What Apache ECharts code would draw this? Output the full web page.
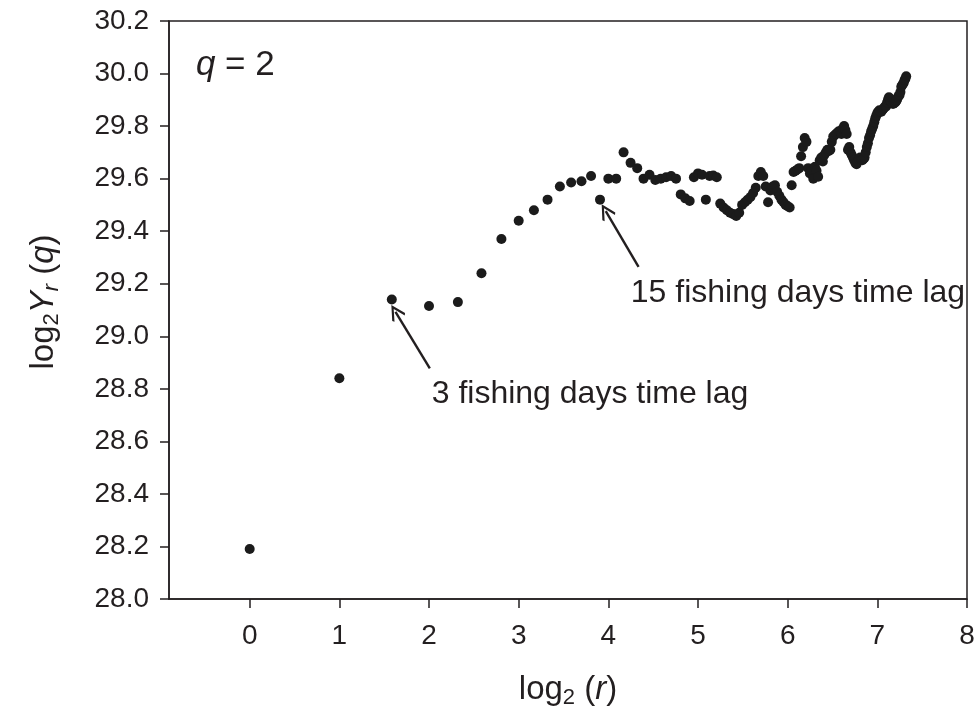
<!DOCTYPE html>
<html>
<head>
<meta charset="utf-8">
<title>log2 Y_r(q) vs log2(r)</title>
<script src="https://cdn.jsdelivr.net/npm/echarts@6/dist/echarts.min.js"></script>
<style>
  html, body { margin: 0; padding: 0; background: #ffffff; }
  #chart { width: 975px; height: 709px; }
</style>
</head>
<body>
<div id="chart"></div>
<script>
// Time lag r (fishing days)
const lags = [
  1, 2, 3, 4, 5, 6, 7, 8, 9, 10, 11, 12, 13, 14, 15, 16, 17, 18, 19, 20,
  21, 22, 23, 24, 25, 26, 27, 28, 29, 30, 31, 32, 33, 34, 35, 36, 37, 38, 39, 40,
  41, 42, 43, 44, 45, 46, 47, 48, 49, 50, 51, 52, 53, 54, 55, 56, 57, 58, 59, 60,
  61, 62, 63, 64, 65, 66, 67, 68, 69, 70, 71, 72, 73, 74, 75, 76, 77, 78, 79, 80,
  81, 82, 83, 84, 85, 86, 87, 88, 89, 90, 91, 92, 93, 94, 95, 96, 97, 98, 99, 100,
  101, 102, 103, 104, 105, 106, 107, 108, 109, 110, 111, 112, 113, 114, 115, 116, 117, 118, 119, 120,
  121, 122, 123, 124, 125, 126, 127, 128, 129, 130, 131, 132, 133, 134, 135, 136, 137, 138, 139, 140,
  141, 142, 143, 144, 145, 146, 147, 148, 149, 150, 151, 152, 153, 154, 155, 156, 157, 158, 159, 160
];

// log2 Y_r(q) for q = 2, one value per lag
const logY = [
  28.19, 28.84, 29.14, 29.115, 29.13, 29.24, 29.37, 29.44, 29.48, 29.52,
  29.57, 29.585, 29.59, 29.61, 29.52, 29.60, 29.60, 29.70, 29.66, 29.64,
  29.60, 29.615, 29.595, 29.60, 29.605, 29.61, 29.60, 29.54, 29.525, 29.515,
  29.605, 29.62, 29.615, 29.52, 29.61, 29.612, 29.605, 29.505, 29.49, 29.48,
  29.47, 29.465, 29.458, 29.47, 29.50, 29.51, 29.52, 29.53, 29.545, 29.565,
  29.61, 29.625, 29.61, 29.57, 29.51, 29.555, 29.57, 29.575, 29.55, 29.535,
  29.52, 29.51, 29.50, 29.495, 29.49, 29.575, 29.625, 29.63, 29.635, 29.64,
  29.685, 29.72, 29.755, 29.74, 29.64, 29.62, 29.63, 29.60, 29.645, 29.63,
  29.607, 29.67, 29.68, 29.665, 29.69, 29.70, 29.71, 29.705, 29.71, 29.74,
  29.76, 29.765, 29.77, 29.775, 29.78, 29.78, 29.77, 29.79, 29.80, 29.785,
  29.77, 29.71, 29.72, 29.70, 29.69, 29.68, 29.67, 29.66, 29.655, 29.665,
  29.675, 29.68, 29.675, 29.67, 29.675, 29.68, 29.70, 29.72, 29.735, 29.755,
  29.765, 29.78, 29.79, 29.80, 29.815, 29.83, 29.84, 29.85, 29.855, 29.86,
  29.855, 29.855, 29.86, 29.865, 29.87, 29.875, 29.875, 29.89, 29.90, 29.91,
  29.905, 29.895, 29.89, 29.885, 29.885, 29.89, 29.89, 29.895, 29.90, 29.91,
  29.915, 29.918, 29.93, 29.95, 29.955, 29.96, 29.965, 29.975, 29.98, 29.99
];

// Tick values
const xTicks = [0, 1, 2, 3, 4, 5, 6, 7, 8];

// Annotations: arrow tail -> head, and text anchor (data coordinates)
const notes = [
  { text: '3 fishing days time lag', tail: [2.009, 28.878], head: [1.626, 29.093], at: [2.03, 28.78] },
  { text: '15 fishing days time lag', tail: [4.337, 29.264], head: [3.971, 29.476], at: [4.25, 29.165] }
];

const FONT = '"Liberation Sans", Arial, Helvetica, sans-serif';
const INK = '#231f20';

const points = lags.map((r, i) => [Math.log2(r), logY[i]]);

// Open chevron arrowhead (points up; markLine rotates it along the line)
const chevron = 'path://M0,0 L10,13 L8,14.8 L0,4.2 L-8,14.8 L-10,13 Z';

const chart = echarts.init(document.getElementById('chart'), null, { renderer: 'canvas' });

chart.setOption({
  backgroundColor: '#ffffff',
  animation: false,
  grid: {
    left: 169, right: 8, top: 21, bottom: 110,
    outerBoundsMode: 'none',
    containLabel: false,
    show: true, borderColor: INK, borderWidth: 1.5, backgroundColor: 'transparent'
  },
  xAxis: {
    type: 'value',
    min: -0.9, max: 8,
    name: '{n|log}{s|2}{n| (}{i|r}{n|)}',
    nameLocation: 'middle',
    nameGap: 72,
    nameTextStyle: {
      color: INK, fontFamily: FONT,
      rich: {
        n: { fontSize: 33, fontFamily: FONT, color: INK, lineHeight: 38, verticalAlign: 'middle' },
        i: { fontSize: 33, fontFamily: FONT, color: INK, fontStyle: 'italic', lineHeight: 38, verticalAlign: 'middle' },
        s: { fontSize: 22, fontFamily: FONT, color: INK, lineHeight: 18, verticalAlign: 'bottom' }
      }
    },
    axisLine: { show: true, onZero: false, lineStyle: { color: INK, width: 1.5 } },
    axisTick: { show: true, inside: false, length: 9, customValues: xTicks, lineStyle: { color: INK, width: 1.5 } },
    axisLabel: {
      show: true, customValues: xTicks, margin: 23,
      fontSize: 28, fontFamily: FONT, color: INK,
      formatter: v => String(v)
    },
    splitLine: { show: false }
  },
  yAxis: {
    type: 'value',
    min: 28.0, max: 30.2, interval: 0.2,
    name: '{n|log}{s|2}{i|Y}{si|r}{n| (}{i|q}{n|)}',
    nameLocation: 'middle',
    nameRotate: 90,
    nameGap: 106,
    nameTextStyle: {
      color: INK, fontFamily: FONT,
      padding: [0, 0, 0, 16],
      rich: {
        n: { fontSize: 33, fontFamily: FONT, color: INK, lineHeight: 38, verticalAlign: 'middle' },
        i: { fontSize: 33, fontFamily: FONT, color: INK, fontStyle: 'italic', lineHeight: 38, verticalAlign: 'middle' },
        s: { fontSize: 22, fontFamily: FONT, color: INK, lineHeight: 18, verticalAlign: 'bottom' },
        si: { fontSize: 22, fontFamily: FONT, color: INK, fontStyle: 'italic', lineHeight: 18, verticalAlign: 'bottom' }
      }
    },
    axisLine: { show: true, onZero: false, lineStyle: { color: INK, width: 1.5 } },
    axisTick: { show: true, inside: false, length: 9, lineStyle: { color: INK, width: 1.5 } },
    axisLabel: {
      show: true, margin: 20,
      fontSize: 28, fontFamily: FONT, color: INK,
      formatter: v => v.toFixed(1)
    },
    splitLine: { show: false }
  },
  series: [{
    type: 'scatter',
    data: points,
    symbol: 'circle',
    symbolSize: 10,
    itemStyle: { color: '#1b1b1b', opacity: 1 },
    silent: true,
    markLine: {
      silent: true,
      symbol: ['none', chevron],
      symbolSize: [15, 16],
      label: { show: false },
      lineStyle: { color: INK, width: 2.4, type: 'solid' },
      data: notes.map(n => [
        { coord: n.tail, symbol: 'none' },
        { coord: n.head, symbol: chevron }
      ])
    }
  }]
});

// Place the annotation texts and the q label in data space
function placeTexts() {
  const elems = notes.map((n, k) => {
    const p = chart.convertToPixel({ gridIndex: 0 }, n.at);
    return {
      type: 'text', id: 'note' + k, x: p[0], y: p[1],
      style: { text: n.text, fill: INK, font: '32px ' + FONT, textAlign: 'left', textVerticalAlign: 'middle' }
    };
  });
  const qp = chart.convertToPixel({ gridIndex: 0 }, [-0.6, 30.03]);
  elems.push({
    type: 'text', id: 'qlabel', x: qp[0], y: qp[1],
    style: {
      text: '{i|q}{n| = 2}',
      textAlign: 'left', textVerticalAlign: 'middle',
      rich: {
        i: { fontSize: 35, fontFamily: FONT, fontStyle: 'italic', fill: INK },
        n: { fontSize: 35, fontFamily: FONT, fill: INK }
      }
    }
  });
  chart.setOption({ graphic: { elements: elems } });
}
placeTexts();
</script>
</body>
</html>
